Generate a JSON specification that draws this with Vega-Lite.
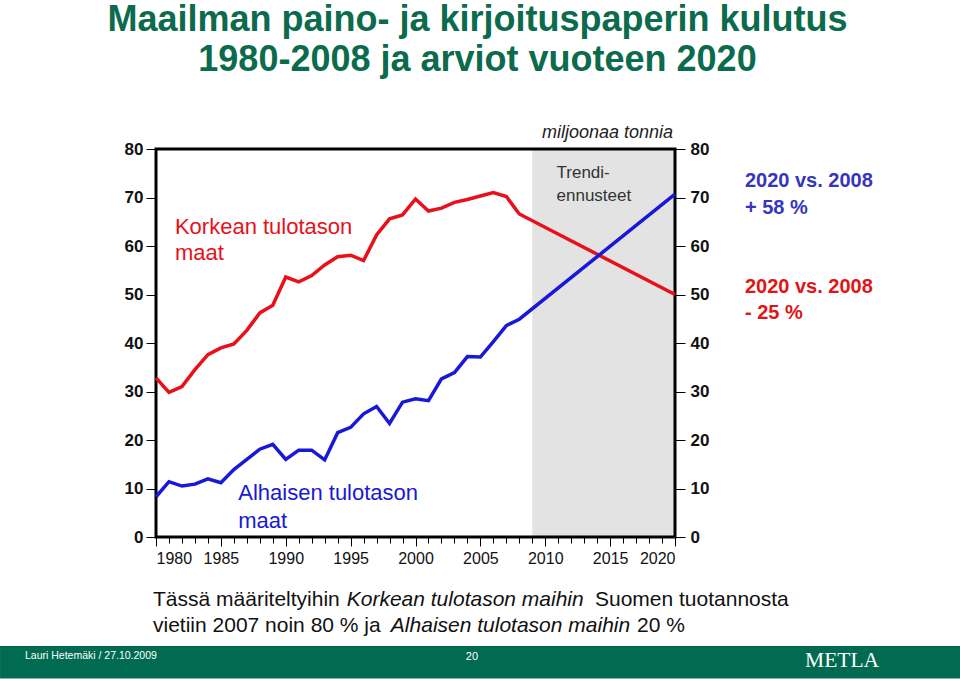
{
  "$schema": "https://vega.github.io/schema/vega-lite/v6.json",
  "width": 519,
  "height": 388,
  "autosize": {"type": "none"},
  "padding": {"left": 156, "top": 149, "right": 285, "bottom": 142},
  "background": "white",
  "config": {
    "font": "Liberation Sans",
    "view": {"stroke": null},
    "axis": {"grid": false, "domain": false, "title": null, "tickColor": "black", "tickWidth": 1, "labelColor": "#111", "labelFont": "Liberation Sans"}
  },
  "title": {
    "text": ["Maailman paino- ja kirjoituspaperin kulutus", "1980-2008 ja arviot vuoteen 2020"],
    "anchor": "middle",
    "frame": "group",
    "dx": 62,
    "offset": 45,
    "fontSize": 36,
    "fontWeight": "bold",
    "font": "Liberation Sans",
    "color": "#0b6b4c",
    "lineHeight": 40
  },
  "resolve": {"axis": {"x": "independent", "y": "independent"}},
  "layer": [
    {
      "data": {"values": [{}]},
      "mark": {"type": "rect", "fill": "#e3e3e3"},
      "encoding": {
        "x": {"datum": 2009, "type": "quantitative", "scale": {"domain": [1980, 2020], "nice": false, "zero": false},
              "axis": {"orient": "bottom", "values": [1980,1981,1982,1983,1984,1985,1986,1987,1988,1989,1990,1991,1992,1993,1994,1995,1996,1997,1998,1999,2000,2001,2002,2003,2004,2005,2006,2007,2008,2009,2010,2011,2012,2013,2014,2015,2016,2017,2018,2019,2020], "labels": false, "tickSize": 6}},
        "x2": {"datum": 2020},
        "y": {"datum": 0, "type": "quantitative", "scale": {"domain": [0, 80], "nice": false, "zero": false},
              "axis": {"orient": "right", "values": [0,10,20,30,40,50,60,70,80], "tickSize": 10, "labelPadding": 5, "labelFontSize": 17, "labelFontWeight": "bold", "labelColor": "#111"}},
        "y2": {"datum": 80}
      }
    },
    {
      "data": {"values": [{}]},
      "mark": {"type": "rect", "fill": null, "stroke": "black", "strokeWidth": 3},
      "encoding": {
        "x": {"datum": 1980, "type": "quantitative", "scale": {"domain": [1980, 2020], "nice": false, "zero": false}, "axis": null},
        "x2": {"datum": 2020},
        "y": {"datum": 0, "type": "quantitative", "scale": {"domain": [0, 80], "nice": false, "zero": false}, "axis": null},
        "y2": {"datum": 80}
      }
    },
    {
      "data": {"values": [
        {"year": 1980, "series": "Korkean tulotason maat", "value": 32.8},
        {"year": 1981, "series": "Korkean tulotason maat", "value": 29.8},
        {"year": 1982, "series": "Korkean tulotason maat", "value": 31.0},
        {"year": 1983, "series": "Korkean tulotason maat", "value": 34.5},
        {"year": 1984, "series": "Korkean tulotason maat", "value": 37.6},
        {"year": 1985, "series": "Korkean tulotason maat", "value": 39.0},
        {"year": 1986, "series": "Korkean tulotason maat", "value": 39.8},
        {"year": 1987, "series": "Korkean tulotason maat", "value": 42.6},
        {"year": 1988, "series": "Korkean tulotason maat", "value": 46.2},
        {"year": 1989, "series": "Korkean tulotason maat", "value": 47.8},
        {"year": 1990, "series": "Korkean tulotason maat", "value": 53.6},
        {"year": 1991, "series": "Korkean tulotason maat", "value": 52.6},
        {"year": 1992, "series": "Korkean tulotason maat", "value": 53.9},
        {"year": 1993, "series": "Korkean tulotason maat", "value": 56.1},
        {"year": 1994, "series": "Korkean tulotason maat", "value": 57.8},
        {"year": 1995, "series": "Korkean tulotason maat", "value": 58.1},
        {"year": 1996, "series": "Korkean tulotason maat", "value": 57.0},
        {"year": 1997, "series": "Korkean tulotason maat", "value": 62.3},
        {"year": 1998, "series": "Korkean tulotason maat", "value": 65.6},
        {"year": 1999, "series": "Korkean tulotason maat", "value": 66.4},
        {"year": 2000, "series": "Korkean tulotason maat", "value": 69.7},
        {"year": 2001, "series": "Korkean tulotason maat", "value": 67.2},
        {"year": 2002, "series": "Korkean tulotason maat", "value": 67.8},
        {"year": 2003, "series": "Korkean tulotason maat", "value": 69.0},
        {"year": 2004, "series": "Korkean tulotason maat", "value": 69.6},
        {"year": 2005, "series": "Korkean tulotason maat", "value": 70.3},
        {"year": 2006, "series": "Korkean tulotason maat", "value": 71.0},
        {"year": 2007, "series": "Korkean tulotason maat", "value": 70.2},
        {"year": 2008, "series": "Korkean tulotason maat", "value": 66.6},
        {"year": 2020, "series": "Korkean tulotason maat", "value": 50.0},
        {"year": 1980, "series": "Alhaisen tulotason maat", "value": 8.3},
        {"year": 1981, "series": "Alhaisen tulotason maat", "value": 11.4},
        {"year": 1982, "series": "Alhaisen tulotason maat", "value": 10.5},
        {"year": 1983, "series": "Alhaisen tulotason maat", "value": 10.9},
        {"year": 1984, "series": "Alhaisen tulotason maat", "value": 12.0},
        {"year": 1985, "series": "Alhaisen tulotason maat", "value": 11.2},
        {"year": 1986, "series": "Alhaisen tulotason maat", "value": 13.9},
        {"year": 1987, "series": "Alhaisen tulotason maat", "value": 16.0},
        {"year": 1988, "series": "Alhaisen tulotason maat", "value": 18.1},
        {"year": 1989, "series": "Alhaisen tulotason maat", "value": 19.1},
        {"year": 1990, "series": "Alhaisen tulotason maat", "value": 16.0},
        {"year": 1991, "series": "Alhaisen tulotason maat", "value": 17.9},
        {"year": 1992, "series": "Alhaisen tulotason maat", "value": 17.9},
        {"year": 1993, "series": "Alhaisen tulotason maat", "value": 15.9},
        {"year": 1994, "series": "Alhaisen tulotason maat", "value": 21.5},
        {"year": 1995, "series": "Alhaisen tulotason maat", "value": 22.6},
        {"year": 1996, "series": "Alhaisen tulotason maat", "value": 25.4},
        {"year": 1997, "series": "Alhaisen tulotason maat", "value": 26.9},
        {"year": 1998, "series": "Alhaisen tulotason maat", "value": 23.4},
        {"year": 1999, "series": "Alhaisen tulotason maat", "value": 27.8},
        {"year": 2000, "series": "Alhaisen tulotason maat", "value": 28.5},
        {"year": 2001, "series": "Alhaisen tulotason maat", "value": 28.1},
        {"year": 2002, "series": "Alhaisen tulotason maat", "value": 32.6},
        {"year": 2003, "series": "Alhaisen tulotason maat", "value": 33.9},
        {"year": 2004, "series": "Alhaisen tulotason maat", "value": 37.2},
        {"year": 2005, "series": "Alhaisen tulotason maat", "value": 37.1},
        {"year": 2006, "series": "Alhaisen tulotason maat", "value": 40.3},
        {"year": 2007, "series": "Alhaisen tulotason maat", "value": 43.6},
        {"year": 2008, "series": "Alhaisen tulotason maat", "value": 44.9},
        {"year": 2020, "series": "Alhaisen tulotason maat", "value": 70.7}
      ]},
      "mark": {"type": "line", "strokeWidth": 3.5},
      "encoding": {
        "x": {"field": "year", "type": "quantitative", "scale": {"domain": [1980, 2020], "nice": false, "zero": false},
              "axis": {"orient": "bottom", "values": [1980,1985,1990,1995,2000,2005,2010,2015,2020], "format": "d", "tickSize": 9, "labelPadding": 4, "labelFontSize": 16, "labelColor": "#111"}},
        "y": {"field": "value", "type": "quantitative", "scale": {"domain": [0, 80], "nice": false, "zero": false},
              "axis": {"orient": "left", "values": [0,10,20,30,40,50,60,70,80], "tickSize": 10, "labelPadding": 3, "labelFontSize": 17, "labelFontWeight": "bold", "labelColor": "#111"}},
        "color": {"field": "series", "type": "nominal", "scale": {"domain": ["Korkean tulotason maat", "Alhaisen tulotason maat"], "range": ["#e8101a", "#1818d8"]}, "legend": null},
        "order": {"field": "year"}
      }
    },
    {"data": {"values": [{}]}, "mark": {"type": "text", "text": "miljoonaa tonnia", "align": "right", "baseline": "middle", "fontSize": 18, "fontStyle": "italic", "color": "#222"},
     "encoding": {"x": {"datum": 2019.85, "type": "quantitative", "scale": {"domain": [1980, 2020], "nice": false, "zero": false}, "axis": null}, "y": {"datum": 83.4, "type": "quantitative", "scale": {"domain": [0, 80], "nice": false, "zero": false}, "axis": null}}},
    {"data": {"values": [{}]}, "mark": {"type": "text", "text": "Trendi-", "align": "left", "baseline": "middle", "fontSize": 17, "color": "#333"},
     "encoding": {"x": {"datum": 2010.87, "type": "quantitative", "scale": {"domain": [1980, 2020], "nice": false, "zero": false}, "axis": null}, "y": {"datum": 75.1, "type": "quantitative", "scale": {"domain": [0, 80], "nice": false, "zero": false}, "axis": null}}},
    {"data": {"values": [{}]}, "mark": {"type": "text", "text": "ennusteet", "align": "left", "baseline": "middle", "fontSize": 17, "color": "#333"},
     "encoding": {"x": {"datum": 2010.87, "type": "quantitative", "scale": {"domain": [1980, 2020], "nice": false, "zero": false}, "axis": null}, "y": {"datum": 70.3, "type": "quantitative", "scale": {"domain": [0, 80], "nice": false, "zero": false}, "axis": null}}},
    {"data": {"values": [{}]}, "mark": {"type": "text", "text": "Korkean tulotason", "align": "left", "baseline": "middle", "fontSize": 22, "color": "#e8101a"},
     "encoding": {"x": {"datum": 1981.46, "type": "quantitative", "scale": {"domain": [1980, 2020], "nice": false, "zero": false}, "axis": null}, "y": {"datum": 63.85, "type": "quantitative", "scale": {"domain": [0, 80], "nice": false, "zero": false}, "axis": null}}},
    {"data": {"values": [{}]}, "mark": {"type": "text", "text": "maat", "align": "left", "baseline": "middle", "fontSize": 22, "color": "#e8101a"},
     "encoding": {"x": {"datum": 1981.46, "type": "quantitative", "scale": {"domain": [1980, 2020], "nice": false, "zero": false}, "axis": null}, "y": {"datum": 58.5, "type": "quantitative", "scale": {"domain": [0, 80], "nice": false, "zero": false}, "axis": null}}},
    {"data": {"values": [{}]}, "mark": {"type": "text", "text": "Alhaisen tulotason", "align": "left", "baseline": "middle", "fontSize": 22, "color": "#1818d8"},
     "encoding": {"x": {"datum": 1986.34, "type": "quantitative", "scale": {"domain": [1980, 2020], "nice": false, "zero": false}, "axis": null}, "y": {"datum": 9.0, "type": "quantitative", "scale": {"domain": [0, 80], "nice": false, "zero": false}, "axis": null}}},
    {"data": {"values": [{}]}, "mark": {"type": "text", "text": "maat", "align": "left", "baseline": "middle", "fontSize": 22, "color": "#1818d8"},
     "encoding": {"x": {"datum": 1986.34, "type": "quantitative", "scale": {"domain": [1980, 2020], "nice": false, "zero": false}, "axis": null}, "y": {"datum": 3.37, "type": "quantitative", "scale": {"domain": [0, 80], "nice": false, "zero": false}, "axis": null}}},
    {"data": {"values": [{}]}, "mark": {"type": "text", "text": "2020 vs. 2008", "align": "left", "baseline": "middle", "fontSize": 20, "fontWeight": "bold", "color": "#3535bd"},
     "encoding": {"x": {"datum": 2025.39, "type": "quantitative", "scale": {"domain": [1980, 2020], "nice": false, "zero": false}, "axis": null}, "y": {"datum": 73.3, "type": "quantitative", "scale": {"domain": [0, 80], "nice": false, "zero": false}, "axis": null}}},
    {"data": {"values": [{}]}, "mark": {"type": "text", "text": "+ 58 %", "align": "left", "baseline": "middle", "fontSize": 20, "fontWeight": "bold", "color": "#3535bd"},
     "encoding": {"x": {"datum": 2025.39, "type": "quantitative", "scale": {"domain": [1980, 2020], "nice": false, "zero": false}, "axis": null}, "y": {"datum": 67.8, "type": "quantitative", "scale": {"domain": [0, 80], "nice": false, "zero": false}, "axis": null}}},
    {"data": {"values": [{}]}, "mark": {"type": "text", "text": "2020 vs. 2008", "align": "left", "baseline": "middle", "fontSize": 20, "fontWeight": "bold", "color": "#e01515"},
     "encoding": {"x": {"datum": 2025.39, "type": "quantitative", "scale": {"domain": [1980, 2020], "nice": false, "zero": false}, "axis": null}, "y": {"datum": 51.6, "type": "quantitative", "scale": {"domain": [0, 80], "nice": false, "zero": false}, "axis": null}}},
    {"data": {"values": [{}]}, "mark": {"type": "text", "text": "- 25 %", "align": "left", "baseline": "middle", "fontSize": 20, "fontWeight": "bold", "color": "#e01515"},
     "encoding": {"x": {"datum": 2025.39, "type": "quantitative", "scale": {"domain": [1980, 2020], "nice": false, "zero": false}, "axis": null}, "y": {"datum": 46.1, "type": "quantitative", "scale": {"domain": [0, 80], "nice": false, "zero": false}, "axis": null}}},
    {"data": {"values": [{}]}, "mark": {"type": "text", "text": "Tässä määriteltyihin", "align": "left", "baseline": "middle", "fontSize": 21, "color": "#111"},
     "encoding": {"x": {"datum": 1979.77, "type": "quantitative", "scale": {"domain": [1980, 2020], "nice": false, "zero": false}, "axis": null}, "y": {"datum": -12.99, "type": "quantitative", "scale": {"domain": [0, 80], "nice": false, "zero": false}, "axis": null}}},
    {"data": {"values": [{}]}, "mark": {"type": "text", "text": "Korkean tulotason maihin", "align": "left", "baseline": "middle", "fontSize": 21, "fontStyle": "italic", "color": "#111"},
     "encoding": {"x": {"datum": 1994.7, "type": "quantitative", "scale": {"domain": [1980, 2020], "nice": false, "zero": false}, "axis": null}, "y": {"datum": -12.99, "type": "quantitative", "scale": {"domain": [0, 80], "nice": false, "zero": false}, "axis": null}}},
    {"data": {"values": [{}]}, "mark": {"type": "text", "text": "Suomen tuotannosta", "align": "left", "baseline": "middle", "fontSize": 21, "color": "#111"},
     "encoding": {"x": {"datum": 2013.83, "type": "quantitative", "scale": {"domain": [1980, 2020], "nice": false, "zero": false}, "axis": null}, "y": {"datum": -12.99, "type": "quantitative", "scale": {"domain": [0, 80], "nice": false, "zero": false}, "axis": null}}},
    {"data": {"values": [{}]}, "mark": {"type": "text", "text": "vietiin 2007 noin 80 % ja", "align": "left", "baseline": "middle", "fontSize": 21, "color": "#111"},
     "encoding": {"x": {"datum": 1979.77, "type": "quantitative", "scale": {"domain": [1980, 2020], "nice": false, "zero": false}, "axis": null}, "y": {"datum": -18.35, "type": "quantitative", "scale": {"domain": [0, 80], "nice": false, "zero": false}, "axis": null}}},
    {"data": {"values": [{}]}, "mark": {"type": "text", "text": "Alhaisen tulotason maihin", "align": "left", "baseline": "middle", "fontSize": 21, "fontStyle": "italic", "color": "#111"},
     "encoding": {"x": {"datum": 1998.1, "type": "quantitative", "scale": {"domain": [1980, 2020], "nice": false, "zero": false}, "axis": null}, "y": {"datum": -18.35, "type": "quantitative", "scale": {"domain": [0, 80], "nice": false, "zero": false}, "axis": null}}},
    {"data": {"values": [{}]}, "mark": {"type": "text", "text": "20 %", "align": "left", "baseline": "middle", "fontSize": 21, "color": "#111"},
     "encoding": {"x": {"datum": 2017.07, "type": "quantitative", "scale": {"domain": [1980, 2020], "nice": false, "zero": false}, "axis": null}, "y": {"datum": -18.35, "type": "quantitative", "scale": {"domain": [0, 80], "nice": false, "zero": false}, "axis": null}}},
    {"data": {"values": [{}]}, "mark": {"type": "rect", "fill": "#006b50", "clip": false},
     "encoding": {"x": {"datum": 1967.98, "type": "quantitative", "scale": {"domain": [1980, 2020], "nice": false, "zero": false}, "axis": null}, "x2": {"datum": 2041.97},
                  "y": {"datum": -22.47, "type": "quantitative", "scale": {"domain": [0, 80], "nice": false, "zero": false}, "axis": null}, "y2": {"datum": -29.2}}},
    {"data": {"values": [{}]}, "mark": {"type": "text", "text": "Lauri Hetemäki /  27.10.2009", "align": "left", "baseline": "middle", "fontSize": 10.5, "color": "white"},
     "encoding": {"x": {"datum": 1969.9, "type": "quantitative", "scale": {"domain": [1980, 2020], "nice": false, "zero": false}, "axis": null}, "y": {"datum": -24.6, "type": "quantitative", "scale": {"domain": [0, 80], "nice": false, "zero": false}, "axis": null}}},
    {"data": {"values": [{}]}, "mark": {"type": "text", "text": "20", "align": "center", "baseline": "middle", "fontSize": 11, "color": "white"},
     "encoding": {"x": {"datum": 2004.35, "type": "quantitative", "scale": {"domain": [1980, 2020], "nice": false, "zero": false}, "axis": null}, "y": {"datum": -24.7, "type": "quantitative", "scale": {"domain": [0, 80], "nice": false, "zero": false}, "axis": null}}},
    {"data": {"values": [{}]}, "mark": {"type": "text", "text": "METLA", "align": "left", "baseline": "middle", "fontSize": 21.5, "font": "Liberation Serif", "color": "white"},
     "encoding": {"x": {"datum": 2030.02, "type": "quantitative", "scale": {"domain": [1980, 2020], "nice": false, "zero": false}, "axis": null}, "y": {"datum": -25.6, "type": "quantitative", "scale": {"domain": [0, 80], "nice": false, "zero": false}, "axis": null}}}
  ]
}
